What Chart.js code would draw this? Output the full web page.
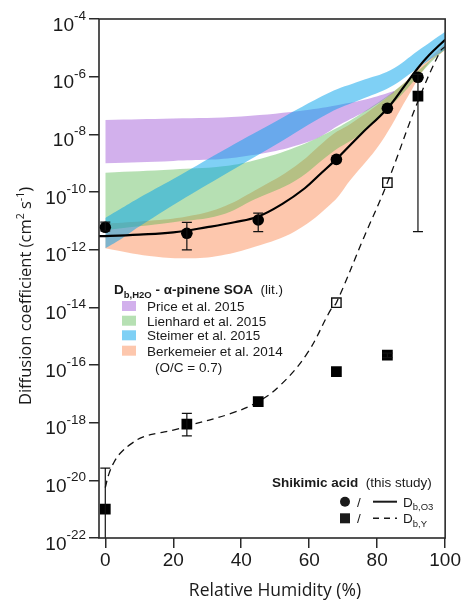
<!DOCTYPE html>
<html>
<head>
<meta charset="utf-8">
<script src="https://cdn.jsdelivr.net/npm/chart.js@4.4.0/dist/chart.umd.min.js"></script>
<style>
html, body { margin: 0; padding: 0; background: #fff; }
canvas { display: block; }
</style>
</head>
<body>
<canvas id="graphe" width="462" height="602"></canvas>
<script>
// axes
const xTicks = [0, 20, 40, 60, 80, 100];
const yTicks = [1e-22, 1e-20, 1e-18, 1e-16, 1e-14, 1e-12, 1e-10, 1e-8, 1e-6, 1e-4];
const yTickExp = ['-22', '-20', '-18', '-16', '-14', '-12', '-10', '-8', '-6', '-4'];

// Shikimic acid, D_b,O3 (circles + solid fit)
const rhO3 = [0, 24, 45, 68, 83, 92];
const dO3 = [5.96e-12, 3.7e-12, 1.07e-11, 1.35e-9, 8.0e-8, 9.5e-7];
const dO3Low = [4.5e-12, 9.8e-13, 4.2e-12, null, null, null];
const dO3High = [9.0e-12, 8.9e-12, 1.86e-11, null, null, null];
const rhFitO3 = [-1.85, 0, 10, 20, 30, 38, 45, 52, 58.7, 63.5, 68, 75, 83, 88, 92, 95.3, 100];
const fitO3 = [2.95e-12, 2.95e-12, 3.31e-12, 3.98e-12, 6.03e-12, 8.91e-12, 1.41e-11, 3.8e-11, 1.35e-10, 4.47e-10, 1.38e-9, 9.55e-9, 7.94e-8, 4.68e-7, 2.0e-6, 5.62e-6, 1.91e-5];

// Shikimic acid, D_b,Y (squares + dashed fit)
const rhY = [0, 24, 45, 68, 83, 92];
const dY = [1.0e-21, 8.9e-19, 5.4e-18, 5.9e-17, 2.2e-16, 2.1e-7];
const dYLow = [1e-23, 3.47e-19, null, null, 1.8e-16, 4.2e-12];
const dYHigh = [2.63e-20, 2.09e-18, null, null, 2.6e-16, 1.2e-6];
const rhYOpen = [68, 83];
const dYOpen = [1.45e-14, 2.1e-10];
const rhFitY = [0, 1, 2.4, 4.4, 7.8, 11.2, 15.2, 20, 24, 37, 45, 51.6, 59.4, 66.3, 68, 76, 83, 92, 98.5, 100];
const fitY = [5.62e-21, 1.58e-20, 3.89e-20, 8.71e-20, 1.91e-19, 3.24e-19, 4.27e-19, 5.5e-19, 7.59e-19, 2.09e-18, 5.37e-18, 2.04e-17, 2.51e-16, 8.13e-15, 1.45e-14, 2.51e-12, 2.09e-10, 1.41e-7, 7.41e-6, 1.1e-5];

// literature bands, alpha-pinene SOA
const rhPrice = [0, 20, 40, 60, 70, 78, 85];
const priceHigh = [3.16e-8, 3.55e-8, 4.17e-8, 7.08e-8, 1.12e-7, 1.78e-7, 3.16e-7];
const priceLow = [1.0e-9, 1.2e-9, 1.66e-9, 5.62e-9, 2.51e-8, 7.94e-8, 2.82e-7];

const rhLienhard = [0, 20, 34, 44, 56, 67, 75, 85, 95, 100];
const lienhardHigh = [4.68e-10, 6.03e-10, 7.59e-10, 1.26e-9, 3.55e-9, 1.41e-8, 5.01e-8, 3.16e-7, 3.16e-6, 1.0e-5];
const lienhardLow = [4.79e-12, 8.91e-12, 1.58e-11, 5.62e-11, 2.51e-10, 2.51e-9, 1.0e-8, 1.26e-7, 2.51e-6, 8.91e-6];

const rhSteimer = [0, 5, 10, 20, 34, 50, 66, 75, 84, 92, 100];
const steimerHigh = [1.26e-11, 2.82e-11, 6.31e-11, 2.82e-10, 2.51e-9, 2.75e-8, 2.82e-7, 7.08e-7, 1.7e-6, 7.94e-6, 3.63e-5];
const steimerLow = [1.12e-12, 2.51e-12, 6.31e-12, 3.55e-11, 3.39e-10, 4.27e-9, 5.62e-8, 1.58e-7, 4.47e-7, 2.0e-6, 8.91e-6];

const rhBerkemeier = [0, 13, 24, 34, 44, 56, 67, 72, 81, 89, 95, 100];
const berkemeierHigh = [7.94e-12, 1.0e-11, 1.41e-11, 2.82e-11, 1.12e-10, 7.94e-10, 1.0e-8, 2.24e-8, 1.26e-7, 7.94e-7, 3.98e-6, 1.41e-5];
const berkemeierLow = [1.12e-12, 6.03e-13, 5.01e-13, 6.31e-13, 1.26e-12, 4.47e-12, 4.47e-11, 2.51e-10, 5.01e-9, 2.0e-7, 2.82e-6, 8.32e-6];

const bandNames = ['Price et al. 2015', 'Lienhard et al. 2015', 'Steimer et al. 2015', 'Berkemeier et al. 2014'];
const bandColors = ['rgba(155, 80, 213, 0.45)', 'rgba(80, 180, 75, 0.42)', 'rgba(0, 161, 235, 0.5)', 'rgba(251, 131, 73, 0.45)'];

const SANS = '"Liberation Sans", Arial, sans-serif';
const OPEN = '"Open Sans", sans-serif';
const INK = '#1a1a1a';

const pts = (xs, ys) => xs.map((x, i) => ({ x: x, y: ys[i] }));

function band(xs, hi, lo, color, order) {
  return [
    { data: pts(xs, hi), fill: '+1', backgroundColor: color, borderWidth: 0, pointRadius: 0,
      tension: 0.4, order: order },
    { data: pts(xs, lo), fill: false, borderColor: 'transparent', borderWidth: 0, pointRadius: 0,
      tension: 0.4, order: order }
  ];
}

function richText(ctx, parts, x, y) {
  let cx = x;
  parts.forEach(p => {
    ctx.font = p.font;
    ctx.fillText(p.t, cx, y + (p.dy || 0));
    cx += ctx.measureText(p.t).width;
  });
  return cx;
}
function richWidth(ctx, parts) {
  let w = 0;
  parts.forEach(p => { ctx.font = p.font; w += ctx.measureText(p.t).width; });
  return w;
}

// error bars, drawn with the chart scales
const errorBars = {
  id: 'errorBars',
  afterDatasetsDraw(chart) {
    const ctx = chart.ctx, xs = chart.scales.x, ys = chart.scales.y, a = chart.chartArea;
    ctx.save();
    ctx.beginPath();
    ctx.rect(a.left, a.top, a.right - a.left, a.bottom - a.top);
    ctx.clip();
    ctx.strokeStyle = '#111';
    ctx.lineWidth = 1.2;
    const sets = [[rhO3, dO3Low, dO3High], [rhY, dYLow, dYHigh]];
    sets.forEach(([rx, lo, hi]) => {
      rx.forEach((x, i) => {
        if (lo[i] == null) return;
        const px = xs.getPixelForValue(x);
        const y1 = ys.getPixelForValue(lo[i]);
        const y2 = ys.getPixelForValue(hi[i]);
        ctx.beginPath();
        ctx.moveTo(px, y1); ctx.lineTo(px, y2);
        ctx.moveTo(px - 5, y1); ctx.lineTo(px + 5, y1);
        ctx.moveTo(px - 5, y2); ctx.lineTo(px + 5, y2);
        ctx.stroke();
      });
    });
    ctx.restore();
  }
};

const decor = {
  id: 'decor',
  afterDraw(chart) {
    const ctx = chart.ctx, a = chart.chartArea, ys = chart.scales.y;
    ctx.save();
    // frame
    ctx.strokeStyle = '#2a2a2a';
    ctx.lineWidth = 1.6;
    ctx.strokeRect(a.left, a.top, a.right - a.left, a.bottom - a.top);

    ctx.fillStyle = INK;
    ctx.textBaseline = 'alphabetic';
    ctx.textAlign = 'left';
    // y tick labels 10^n
    yTicks.forEach((v, i) => {
      const py = ys.getPixelForValue(v);
      const parts = [
        { t: '10', font: '19px ' + SANS, dy: 11.5 },
        { t: yTickExp[i], font: '13.5px ' + SANS, dy: 1 }
      ];
      const w = richWidth(ctx, parts);
      richText(ctx, parts, 86 - w, py);
    });

    // x title
    ctx.font = '17.5px ' + OPEN;
    ctx.textAlign = 'center';
    ctx.fillText('Relative Humidity (%)', 275, 596);
    ctx.textAlign = 'left';

    // y title (rotated)
    ctx.save();
    ctx.translate(25, 296);
    ctx.rotate(-Math.PI / 2);
    const yt = [
      { t: 'Diffusion coefficient (cm', font: '16.5px ' + OPEN },
      { t: '2', font: '10.5px ' + OPEN, dy: -7 },
      { t: ' s', font: '16.5px ' + OPEN },
      { t: '-1', font: '10.5px ' + OPEN, dy: -7 },
      { t: ')', font: '16.5px ' + OPEN }
    ];
    richText(ctx, yt, -richWidth(ctx, yt) / 2, 6);
    ctx.restore();

    // literature legend
    richText(ctx, [
      { t: 'D', font: 'bold 13.5px ' + SANS },
      { t: 'b,H2O', font: 'bold 9.5px ' + SANS, dy: 3.5 },
      { t: ' - \u03b1-pinene SOA', font: 'bold 13.5px ' + SANS },
      { t: '  (lit.)', font: '13.5px ' + SANS }
    ], 114, 294);
    const rows = [306, 320.7, 335.3, 350.7];
    bandNames.forEach((name, i) => {
      ctx.fillStyle = bandColors[i];
      ctx.fillRect(122, rows[i] - 5, 14, 10);
      ctx.fillStyle = INK;
      ctx.font = '13.5px ' + SANS;
      ctx.fillText(name, 147, rows[i] + 5);
    });
    ctx.fillText('(O/C = 0.7)', 155, 372);

    // shikimic acid legend
    richText(ctx, [
      { t: 'Shikimic acid', font: 'bold 13.5px ' + SANS },
      { t: '  (this study)', font: '13.5px ' + SANS }
    ], 272, 486.5);
    ctx.beginPath();
    ctx.arc(345, 501.7, 5, 0, Math.PI * 2);
    ctx.fill();
    ctx.fillRect(340, 513.3, 10, 10);
    ctx.font = '13.5px ' + SANS;
    ctx.fillText('/', 357, 506.5);
    ctx.fillText('/', 357, 523);
    ctx.strokeStyle = INK;
    ctx.lineWidth = 2;
    ctx.beginPath(); ctx.moveTo(373, 501.7); ctx.lineTo(397, 501.7); ctx.stroke();
    ctx.lineWidth = 1.4;
    ctx.setLineDash([6, 5]);
    ctx.beginPath(); ctx.moveTo(373, 518.3); ctx.lineTo(397, 518.3); ctx.stroke();
    ctx.setLineDash([]);
    richText(ctx, [{ t: 'D', font: '13.5px ' + SANS }, { t: 'b,O3', font: '9.5px ' + SANS, dy: 3.5 }], 403, 506.5);
    richText(ctx, [{ t: 'D', font: '13.5px ' + SANS }, { t: 'b,Y', font: '9.5px ' + SANS, dy: 3.5 }], 403, 523);
    ctx.restore();
  }
};

const datasets = [
  { data: pts(rhFitO3, fitO3), borderColor: '#000', borderWidth: 2.2, pointRadius: 0, fill: false,
    tension: 0.4, order: 1 },
  { data: pts(rhFitY, fitY), borderColor: '#111', borderWidth: 1.3, borderDash: [7, 5], pointRadius: 0, fill: false,
    tension: 0.4, order: 1 },
  { data: pts(rhO3, dO3), showLine: false, pointStyle: 'circle', pointRadius: 5.8,
    backgroundColor: '#000', borderColor: '#000', borderWidth: 0, order: 0 },
  { data: pts(rhY, dY), showLine: false, pointStyle: 'rect', pointRadius: 7.6,
    backgroundColor: '#000', borderColor: '#000', borderWidth: 0, order: 0 },
  { data: pts(rhYOpen, dYOpen), showLine: false, pointStyle: 'rect', pointRadius: 6.6,
    backgroundColor: 'rgba(0,0,0,0)', borderColor: '#111', borderWidth: 1.4, order: 0 },
  ...band(rhSteimer, steimerHigh, steimerLow, bandColors[2], 3),
  ...band(rhPrice, priceHigh, priceLow, bandColors[0], 4),
  ...band(rhLienhard, lienhardHigh, lienhardLow, bandColors[1], 5),
  ...band(rhBerkemeier, berkemeierHigh, berkemeierLow, bandColors[3], 6)
];

const chart = new Chart(document.getElementById('graphe').getContext('2d'), {
  type: 'line',
  data: { datasets: datasets },
  options: {
    responsive: false,
    animation: false,
    events: [],
    layout: { padding: { top: 19, right: 16, left: 0, bottom: 0 } },
    plugins: { legend: { display: false }, tooltip: { enabled: false } },
    scales: {
      x: {
        type: 'linear', min: -1.85, max: 100, bounds: 'data',
        afterBuildTicks: s => { s.ticks = xTicks.map(v => ({ value: v })); },
        afterFit: s => { s.height = 64; },
        grid: { drawOnChartArea: false, drawTicks: true, tickLength: 10, color: '#2a2a2a', lineWidth: 1.5 },
        border: { display: false },
        ticks: { color: INK, font: { family: SANS, size: 19 }, padding: 1, maxRotation: 0, autoSkip: false }
      },
      y: {
        type: 'logarithmic', min: 1e-22, max: 1e-4, bounds: 'data',
        afterBuildTicks: s => { s.ticks = yTicks.map(v => ({ value: v })); },
        afterFit: s => { s.width = 99; },
        grid: { drawOnChartArea: false, drawTicks: true, tickLength: 10, color: '#2a2a2a', lineWidth: 1.5 },
        border: { display: false },
        ticks: { display: false }
      }
    }
  },
  plugins: [errorBars, decor]
});
</script>
</body>
</html>
